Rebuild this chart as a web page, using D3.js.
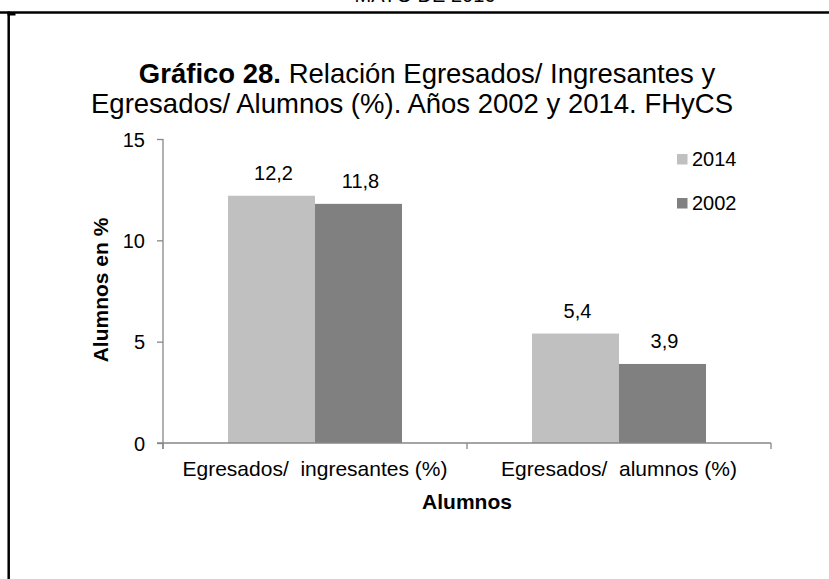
<!DOCTYPE html>
<html><head><meta charset="utf-8">
<script src="https://cdn.jsdelivr.net/npm/d3@7/dist/d3.min.js"></script>
<style>
html,body{margin:0;padding:0;background:#fff;}
svg{display:block;font-family:"Liberation Sans",Arial,sans-serif;}
</style></head>
<body>
<svg id="c" width="829" height="579"></svg>
<script>
const categories = ["Egresados/  ingresantes (%)", "Egresados/  alumnos (%)"];
const series = ["2014", "2002"];
const values2014 = [12.2, 5.4];
const values2002 = [11.8, 3.9];
const valueLabels2014 = ["12,2", "5,4"];
const valueLabels2002 = ["11,8", "3,9"];
const yTicks = [0, 5, 10, 15];
const colors = {"2014": "#c0c0c0", "2002": "#808080"};

const svg = d3.select("#c");

// page frame
svg.append("text").attr("x", 425).attr("y", 2).attr("text-anchor", "middle")
  .attr("font-size", 20).text("MAYO DE 2016");
svg.append("line").attr("x1", 0).attr("x2", 829).attr("y1", 12.5).attr("y2", 12.5)
  .attr("stroke", "#000").attr("stroke-width", 2.5);
svg.append("line").attr("x1", 8.7).attr("x2", 8.7).attr("y1", 11.5).attr("y2", 579)
  .attr("stroke", "#000").attr("stroke-width", 2.5);
svg.append("rect").attr("x", 7.5).attr("y", 12.5).attr("width", 8).attr("height", 3).attr("fill", "#000");

// title
const t1 = svg.append("text").attr("x", 427).attr("y", 83).attr("text-anchor", "middle").attr("font-size", 27.5);
t1.append("tspan").attr("font-weight", "bold").text("Gráfico 28.");
t1.append("tspan").text(" Relación Egresados/ Ingresantes y");
svg.append("text").attr("x", 412).attr("y", 113).attr("text-anchor", "middle").attr("font-size", 27.5)
  .text("Egresados/ Alumnos (%). Años 2002 y 2014. FHyCS");

const y = d3.scaleLinear().domain([0, 15]).range([443, 139]);
const x0 = d3.scaleBand().domain(categories).range([163, 771]);
const x1 = d3.scaleBand().domain(series).range([0, x0.bandwidth()]).paddingOuter(0.747);

const axisColor = "#878787";
// y axis
const yAxis = svg.append("g").attr("transform", "translate(163,0)")
  .call(d3.axisLeft(y).tickValues(yTicks).tickSize(6).tickPadding(12).tickFormat(d3.format("d")));
yAxis.select(".domain").remove();
yAxis.append("line").attr("x1", 0).attr("x2", 0).attr("y1", y(15)).attr("y2", y(0) + 6)
  .attr("stroke", axisColor).attr("stroke-width", 1.3);
yAxis.selectAll(".tick line").attr("stroke", axisColor).attr("stroke-width", 1.3);
yAxis.selectAll(".tick text").attr("font-size", 20).attr("fill", "#000")
  .attr("font-family", "Liberation Sans, Arial, sans-serif").attr("dy", "0.36em");

// bars
const data = categories.map((c, i) => ({cat: c, vals: [
  {s: "2014", v: values2014[i], lab: valueLabels2014[i]},
  {s: "2002", v: values2002[i], lab: valueLabels2002[i]}
]}));
const g = svg.append("g").selectAll("g").data(data).join("g")
  .attr("transform", d => `translate(${x0(d.cat)},0)`);
g.selectAll("rect").data(d => d.vals).join("rect")
  .attr("x", d => x1(d.s)).attr("width", x1.bandwidth())
  .attr("y", d => y(d.v)).attr("height", d => y(0) - y(d.v))
  .attr("fill", d => colors[d.s]);
g.selectAll("text").data(d => d.vals).join("text")
  .attr("x", d => x1(d.s) + x1.bandwidth() / 2 + 2)
  .attr("y", d => y(d.v) - 16).attr("text-anchor", "middle")
  .attr("font-size", 20).text(d => d.lab);

// x axis
const xAxis = svg.append("g").attr("transform", "translate(0,443)");
xAxis.append("line").attr("x1", 157).attr("x2", 771).attr("y1", 0).attr("y2", 0)
  .attr("stroke", axisColor).attr("stroke-width", 1.3);
const xt = [x0.range()[0]].concat(categories.map(c => x0(c) + x0.bandwidth()));
xAxis.selectAll("line.t").data(xt).join("line").attr("class", "t")
  .attr("x1", d => d).attr("x2", d => d).attr("y1", 0).attr("y2", 6)
  .attr("stroke", axisColor).attr("stroke-width", 1.3);
xAxis.selectAll("text.cat").data(categories).join("text").attr("class", "cat")
  .attr("x", d => x0(d) + x0.bandwidth() / 2).attr("y", 33)
  .attr("text-anchor", "middle").attr("font-size", 21).style("white-space", "pre")
  .text(d => d);

// axis titles
svg.append("text").attr("x", 467).attr("y", 509).attr("text-anchor", "middle")
  .attr("font-size", 21).attr("font-weight", "bold").text("Alumnos");
svg.append("text").attr("transform", "translate(108,290) rotate(-90)").attr("text-anchor", "middle")
  .attr("font-size", 21).attr("font-weight", "bold").text("Alumnos en %");

// legend
const leg = svg.append("g").selectAll("g").data(series).join("g")
  .attr("transform", (d, i) => `translate(677,${154 + i * 44})`);
leg.append("rect").attr("width", 10.5).attr("height", 10.5).attr("fill", d => colors[d]);
leg.append("text").attr("x", 15).attr("y", 12).attr("font-size", 20).text(d => d);
</script>
</body></html>
